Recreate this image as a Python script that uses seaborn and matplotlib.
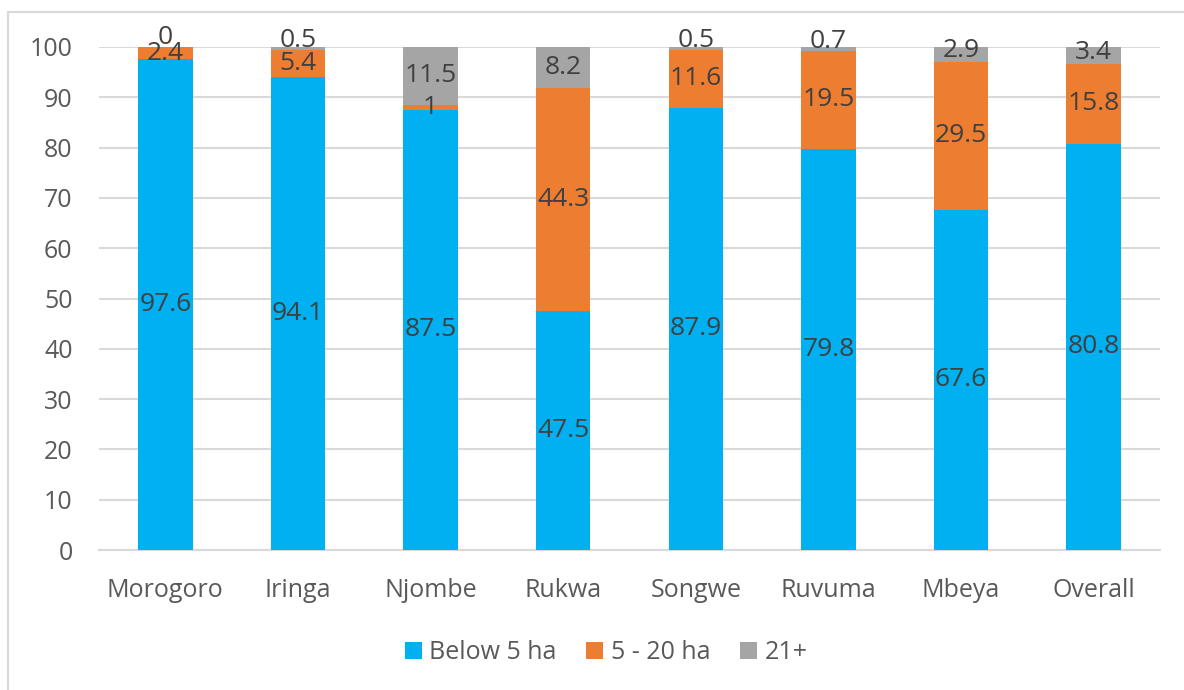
import matplotlib
matplotlib.use("Agg")
import matplotlib.pyplot as plt
import seaborn as sns
import numpy as np
import pandas as pd
from matplotlib.patches import Rectangle, Patch

regions = ["Morogoro", "Iringa", "Njombe", "Rukwa", "Songwe", "Ruvuma", "Mbeya", "Overall"]
below5 = [97.6, 94.1, 87.5, 47.5, 87.9, 79.8, 67.6, 80.8]
mid5_20 = [2.4, 5.4, 1, 44.3, 11.6, 19.5, 29.5, 15.8]
over21 = [0, 0.5, 11.5, 8.2, 0.5, 0.7, 2.9, 3.4]
series_names = ["Below 5 ha", "5 - 20 ha", "21+"]
colors = ["#00B0F0", "#ED7D31", "#A5A5A5"]

sns.set_theme(style="white")
plt.rcParams["font.family"] = ["Open Sans", "DejaVu Sans"]

fig = plt.figure(figsize=(11.84, 6.9), dpi=100)
ax = fig.add_axes([99/1184, 1-550/690, (1160-99)/1184, (550-47)/690])

b = np.array(below5); m = np.array(mid5_20); o = np.array(over21)
stack = [b, m, o]
bottoms = [np.zeros_like(b), b, b + m]
df = pd.DataFrame({"region": regions})
for vals, bot, col in zip(stack, bottoms, colors):
    df["v"] = vals
    df["bot"] = bot
    sns.barplot(data=df, x="region", y="v", bottom=df["bot"], color=col, width=0.41,
                saturation=1, ax=ax, zorder=3, linewidth=0)

for k, (vals, bot) in enumerate(zip(stack, bottoms)):
    for i, (v, bt) in enumerate(zip(vals, bot)):
        y = bt + v / 2
        if k == len(stack) - 1:
            y += max(0.0, 2.4 - v / 2) * 0.75
        ax.text(i, y, f"{v:g}", ha="center", va="center", fontsize=19,
                color="#404040", zorder=5, clip_on=False)

ax.set_ylim(0, 100)
ax.set_xlim(-0.5, len(regions)-0.5)
ax.set_yticks(range(0, 101, 10))
ax.yaxis.grid(True, color="#D9D9D9", linewidth=1.5, zorder=0)
ax.set_axisbelow(True)
for s in ["top", "right", "left"]:
    ax.spines[s].set_visible(False)
ax.spines["bottom"].set_color("#D9D9D9")
ax.spines["bottom"].set_linewidth(1.5)
ax.tick_params(axis="y", length=0, pad=19, labelsize=18, labelcolor="#595959")
ax.tick_params(axis="x", length=0, pad=20, labelsize=18, labelcolor="#595959")
ax.set_xlabel("")
ax.set_ylabel("")

handles = [Patch(facecolor=c, edgecolor="none") for c in colors]
fig.legend(handles, series_names, loc="center", bbox_to_anchor=(0.512, 0.054), ncol=3,
           frameon=False, fontsize=18, labelcolor="#595959", handlelength=0.68,
           handleheight=0.68, handletextpad=0.3, columnspacing=1.2)

fig.patches.append(Rectangle((8/1184, -0.1), 1.2, 1 - 12/690 + 0.1, transform=fig.transFigure,
                             fill=False, edgecolor="#D9D9D9", linewidth=1.5, figure=fig))

fig.savefig("out.png", dpi=100)
